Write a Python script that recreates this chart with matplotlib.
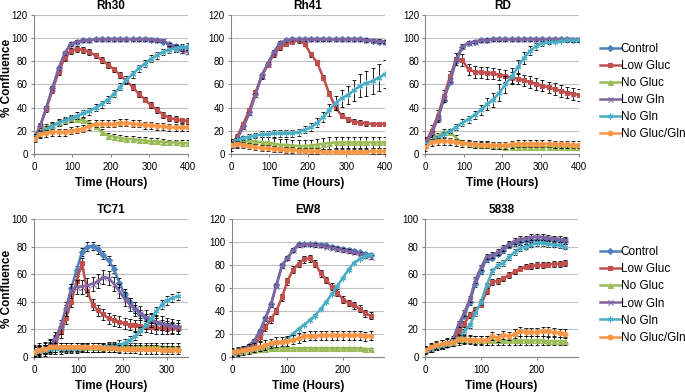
import numpy as np
import matplotlib
matplotlib.use("Agg")
import matplotlib.pyplot as plt

plt.rcParams["font.family"] = ["Liberation Sans", "DejaVu Sans"]

series_names = ["Control", "Low Gluc", "No Gluc", "Low Gln", "No Gln", "No Gluc/Gln"]
series_colors = ["#4F81BD", "#C0504D", "#9BBB59", "#8064A2", "#4BACC6", "#F79646"]
series_markers = ["D", "s", "^", "x", (6, 2, 0), "o"]
series_msize = [3.0, 3.4, 3.6, 3.6, 4.2, 3.4]

# time points (hours)
top_time = list(range(0, 401, 16))
tc71_time = list(range(0, 325, 12))
ew8_time = list(range(0, 251, 10))
c5838_time = list(range(0, 251, 10))

# ---- Rh30
rh30_control = [13, 24, 40, 57, 74, 87, 95, 97, 98, 98, 99, 99, 99, 99, 99, 99, 99, 99, 99, 98, 98, 97, 95, 93, 92, 92]
rh30_low_gluc = [13, 24, 39, 55, 71, 83, 89, 90.5, 90, 88, 85, 81, 77, 73, 68, 63, 58, 52, 47, 42, 38, 34, 31, 30, 29, 28.5]
rh30_no_gluc = [13, 20, 23, 25, 27, 29, 30, 30, 29, 27, 24, 19, 16, 15, 14, 13, 13, 12, 12, 11, 11, 10.5, 10, 10, 9.5, 9.5]
rh30_low_gln = [13, 24, 40, 57, 74, 87, 95, 97, 98, 98, 99, 99, 99, 99, 99, 99, 99, 99, 99, 99, 98, 98, 94, 91, 89, 88]
rh30_no_gln = [14, 18, 21, 24, 27, 29, 31, 33, 35, 37, 40, 43, 47, 52, 58, 64, 69, 74, 78, 82, 85, 88, 90, 91, 92, 92.5]
rh30_no_gluc_gln = [13, 17, 18, 19, 19, 19, 20, 21, 22, 24, 26, 26, 26, 26, 27, 27, 26, 26, 25, 25, 24, 24, 23, 23, 23, 23]
rh30_err = [1.5, 2.5, 2.5, 1.5, 3, 3]

# ---- Rh41
rh41_control = [8, 13, 24, 36, 52, 68, 78, 88, 96, 98, 99, 99, 99, 99, 99, 99, 99, 99, 99, 99, 99, 99, 98, 97.5, 97, 96.5]
rh41_low_gluc = [8, 15, 26, 38, 53, 67, 77, 86, 92, 95, 97, 98, 95, 86, 79, 66, 52, 40, 33, 30, 28, 27, 26.5, 26, 26, 26]
rh41_no_gluc = [8, 10, 11, 11, 11, 10, 10, 9, 8, 8, 7.5, 7, 7, 7.5, 8, 9, 9.5, 10, 10, 10, 10, 10, 10, 10, 10, 10]
rh41_low_gln = [8, 13, 23, 35, 51, 67, 78, 88, 96, 98, 99, 99, 99, 99, 99, 99, 99, 99, 99, 99, 99, 99, 98.5, 98, 97.5, 97]
rh41_no_gln = [8, 12, 14, 15, 16, 17, 17, 18, 18, 18, 18, 19, 21, 23, 27, 32, 38, 44, 48, 51, 55, 59, 61, 63, 66, 69]
rh41_no_gluc_gln = [8, 9, 8, 7, 6, 5.5, 5, 4.5, 4, 3.5, 3.5, 3, 3, 2.5, 2.5, 2, 2, 2, 2, 2, 2, 2, 2, 2.5, 2.5, 2.5]
rh41_no_gln_err = [1, 1.5, 2, 2, 2, 2.5, 2.5, 3, 3, 3, 3, 3, 3, 3.5, 4, 4.5, 5, 6, 7, 8, 9, 10, 11, 11, 12, 12]
rh41_err = [1.5, 2, 5, 1.5, rh41_no_gln_err, 2.5]

# ---- RD
rd_control = [8, 17, 30, 47, 62, 80, 92, 96, 97, 98, 98, 99, 99, 99, 99, 99, 99, 99, 99, 99, 99, 99, 99, 99, 98.5, 98.5]
rd_low_gluc = [10, 20, 33, 50, 67, 82, 81, 73, 71, 70.5, 70, 69.5, 68.5, 67.5, 66, 65, 63.5, 62, 60.5, 59, 57.5, 56, 54.5, 53, 52, 51]
rd_no_gluc = [8, 12, 16, 19, 19, 14, 10, 9, 8.5, 8, 7.5, 7, 7, 6.5, 6.5, 6, 6, 6, 6, 6, 6, 6, 6, 6, 6, 6]
rd_low_gln = [8, 18, 31, 48, 64, 82, 93, 96, 97, 98, 98.5, 99, 99, 99, 99, 99, 99, 99, 99, 99, 99, 99, 99, 99, 99, 99]
rd_no_gln = [8, 11, 14, 17, 20, 23, 27, 30, 34, 38, 43, 47, 53, 60, 67, 75, 83, 89, 93, 95.5, 96.5, 97, 97.5, 98, 98, 98]
rd_no_gluc_gln = [6, 10, 11, 11, 11, 10, 9.5, 9, 8.5, 8, 8, 7.5, 7.5, 7.5, 8.5, 9, 9, 9, 9, 9, 9, 8.5, 8.5, 8.5, 8, 8]
rd_no_gln_err = [1, 1.5, 2, 2, 2, 2.5, 3, 3, 3.5, 4, 5, 6, 7, 7, 7, 6, 5, 4, 3, 2, 1.5, 1.5, 1, 1, 1, 1]
rd_err = [1.5, 5, 2.5, 1.5, rd_no_gln_err, 3]

# ---- TC71
tc71_control = [4, 5, 6, 8, 13, 22, 35, 50, 63, 76, 80, 80.5, 78, 74, 70, 64, 54, 46, 40, 35, 31, 28, 26, 25, 24, 23, 22.5, 22]
tc71_low_gluc = [4, 5, 6, 8, 11, 18, 28, 40, 55, 68, 48, 38, 34, 31, 28, 26.5, 25.5, 24.5, 23.5, 23, 22.5, 22, 21.5, 21, 21, 21, 21, 21]
tc71_no_gluc = [4, 5, 6, 6.5, 7, 7, 7, 7, 7, 7, 7, 7, 7, 7, 7, 7, 7, 7.5, 7.5, 7.5, 7.5, 7.5, 7.5, 7.5, 7.5, 7, 7, 7]
tc71_low_gln = [4, 5, 6, 8, 13, 22, 35, 48, 51, 51, 52, 53, 55, 58, 57, 53, 48, 42, 38, 35, 32, 29, 27, 25.5, 24.5, 23.5, 22.5, 22]
tc71_no_gln = [4, 4.5, 5, 5, 5.5, 5.5, 6, 6, 6, 6.5, 6.5, 7, 7, 7.5, 8, 8, 9, 10, 12, 15, 19, 23, 28, 33, 38, 41, 43, 44]
tc71_no_gluc_gln = [4, 5, 6, 7, 7, 7.5, 7.5, 7.5, 7.5, 7.5, 7, 7, 7, 6.5, 6.5, 6.5, 6, 6, 6, 6, 5.5, 5.5, 5.5, 5.5, 5, 5, 5, 5]
tc71_err = [3, 4, 3, 5, 3, 3]

# ---- EW8
ew8_control = [4, 5.5, 7, 10, 14, 23, 34, 46, 63, 80, 86, 93, 98, 98, 98, 98, 97.5, 97, 96, 95, 94, 93, 92, 91, 90, 89]
ew8_low_gluc = [4, 5, 6, 8, 10, 17, 26, 33, 40, 52, 66, 76, 81, 85, 86, 81, 73, 67, 61, 56, 50, 47, 45, 42, 38, 36]
ew8_no_gluc = [4, 5, 5.5, 6, 6.5, 7, 7, 7.5, 7.5, 7.5, 7.5, 7.5, 7.5, 7.5, 7.5, 7.5, 7.5, 7.5, 7.5, 7.5, 7.5, 7.5, 7.5, 7.5, 7, 7]
ew8_low_gln = [4, 5.5, 7, 10, 14, 22, 33, 45, 62, 79, 86, 93, 97.5, 98, 98, 97.5, 97, 96, 95, 94, 93, 92, 91, 90, 88, 87]
ew8_no_gln = [4, 5, 6, 7, 8, 9, 10, 11, 12, 13, 16, 20, 24.5, 28, 32, 36, 42, 48, 55, 62, 69, 76, 82, 85, 88, 89]
ew8_no_gluc_gln = [4, 5, 6, 7, 8, 9, 10.5, 12, 13, 13.5, 14, 15, 16.5, 18, 18.5, 18.5, 19, 19, 19, 19, 19, 19, 19, 19, 18, 18.5]
ew8_err = [1.5, 3, 1, 1.5, 1, 4]

# ---- 5838
c5838_control = [5, 6, 7, 8, 9, 12, 22, 30, 40, 53, 62, 71, 72, 75, 77.5, 81, 82.5, 83.5, 84, 84.5, 85, 85, 84.5, 84.5, 84, 84]
c5838_low_gluc = [5, 6, 7, 8, 9, 12, 18.5, 24, 30.5, 34, 38, 47.5, 54.5, 55, 57, 59.5, 62, 64, 65.5, 66, 66.5, 66.5, 67, 67.5, 67.5, 68]
c5838_no_gluc = [5, 6.5, 8, 9, 10, 11, 12, 12.5, 13, 12.5, 12.5, 12, 12, 12, 12, 12, 12, 12, 12, 12, 12, 12, 11.5, 11.5, 11.5, 11.5]
c5838_low_gln = [5, 6, 7, 8, 9.5, 13, 24, 32, 42, 56, 65, 73, 74, 76, 79, 82, 84, 85.5, 86, 87, 87, 87, 86.5, 86, 85.5, 85]
c5838_no_gln = [5, 6, 7, 8, 9, 12, 13.5, 18.5, 23, 32, 40, 52, 62, 66.5, 68, 72.5, 76, 79, 80, 81.5, 82.5, 82.5, 82, 81.5, 81, 80]
c5838_no_gluc_gln = [5, 7, 8.5, 9.5, 10.5, 11, 13, 13, 12.5, 12, 12, 12, 15, 14, 16, 15, 17, 18.5, 18, 18, 18, 18.5, 18.5, 18, 17.5, 17]
c5838_err = [2, 2, 3, 2, 2, 3]

panels = [
    ("Rh30", top_time, [rh30_control, rh30_low_gluc, rh30_no_gluc, rh30_low_gln, rh30_no_gln, rh30_no_gluc_gln], rh30_err,
     [0.0496, 0.607, 0.2248, 0.355], 400, 120, None),
    ("Rh41", top_time, [rh41_control, rh41_low_gluc, rh41_no_gluc, rh41_low_gln, rh41_no_gln, rh41_no_gluc_gln], rh41_err,
     [0.337, 0.607, 0.2248, 0.355], 400, 120, None),
    ("RD", top_time, [rd_control, rd_low_gluc, rd_no_gluc, rd_low_gln, rd_no_gln, rd_no_gluc_gln], rd_err,
     [0.621, 0.607, 0.2248, 0.355], 400, 120, 1 - 91.5 / 392),
    ("TC71", tc71_time, [tc71_control, tc71_low_gluc, tc71_no_gluc, tc71_low_gln, tc71_no_gln, tc71_no_gluc_gln], tc71_err,
     [0.0496, 0.0892, 0.2248, 0.3521], 347, 100, None),
    ("EW8", ew8_time, [ew8_control, ew8_low_gluc, ew8_no_gluc, ew8_low_gln, ew8_no_gln, ew8_no_gluc_gln], ew8_err,
     [0.3387, 0.0892, 0.2219, 0.3521], 274, 120, None),
    ("5838", c5838_time, [c5838_control, c5838_low_gluc, c5838_no_gluc, c5838_low_gln, c5838_no_gln, c5838_no_gluc_gln], c5838_err,
     [0.6204, 0.0892, 0.2234, 0.3521], 273, 100, 1 - 295 / 392),
]

fig = plt.figure(figsize=(6.85, 3.92), dpi=100)

for title, t, values, errs, rect, xmax, ymax, legend_y in panels:
    ax = fig.add_axes(rect)
    for i, vals in enumerate(values):
        err = np.broadcast_to(np.asarray(errs[i], dtype=float), (len(vals),))
        ax.errorbar(t, vals, yerr=err, fmt="none", ecolor="black", elinewidth=0.6,
                    capsize=1.6, capthick=0.6, zorder=3 + i * 0.1)
        ax.plot(t, vals, color=series_colors[i], marker=series_markers[i],
                markersize=series_msize[i], markeredgewidth=0.8, linewidth=1.8,
                label=series_names[i], zorder=3.05 + i * 0.1)
    ax.set_xlim(0, xmax)
    ax.set_ylim(0, ymax)
    ax.set_xticks(np.arange(0, xmax + 1, 100))
    ax.set_yticks(np.arange(0, ymax + 1, 20))
    ax.yaxis.grid(True, color="#BFBFBF", linewidth=0.8)
    ax.set_axisbelow(True)
    for side in ["top", "right"]:
        ax.spines[side].set_visible(False)
    for side in ["left", "bottom"]:
        ax.spines[side].set_color("#868686")
        ax.spines[side].set_linewidth(0.8)
    ax.tick_params(axis="both", labelsize=7, color="#868686", length=2.5, width=0.8, pad=2)
    ax.tick_params(axis="x", pad=3)
    ax.set_title(title, fontsize=8.5, fontweight="bold", pad=4)
    ax.set_xlabel("Time (Hours)", fontsize=8.5, fontweight="bold", labelpad=4)
    if legend_y is not None:
        ax.legend(loc="center left", bbox_to_anchor=(600 / 685, legend_y),
                  bbox_transform=fig.transFigure, frameon=False,
                  fontsize=8.5, handlelength=1.75, handletextpad=0.0,
                  labelspacing=0.43, borderaxespad=0.0, borderpad=0.0)

fig.text(0.002, 0.80, "% Confluence", rotation=90, fontsize=8.5, fontweight="bold", va="center", ha="left")
fig.text(0.002, 0.262, "% Confluence", rotation=90, fontsize=8.5, fontweight="bold", va="center", ha="left")

fig.savefig("out.png", dpi=100)
